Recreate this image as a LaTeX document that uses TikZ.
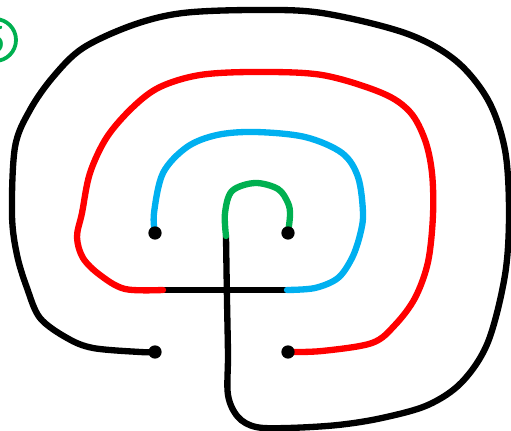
\documentclass[tikz,border=0pt]{standalone}
\usepackage{fontspec}
\setmainfont{Carlito}
\definecolor{lred}{HTML}{FF0000}
\definecolor{lblue}{HTML}{00B0F0}
\definecolor{lgreen}{HTML}{00B050}
\tikzset{
  wall/.style={line width=5pt*0.72, line cap=round, line join=round},
  dotmark/.style={circle, fill=black, inner sep=0pt, minimum size=10.5pt*0.72},
}
\begin{document}
\begin{tikzpicture}[x=0.02cm, y=-0.02cm]
\useasboundingbox (0,0) rectangle (511,431);
\clip (0,0) rectangle (511,431);
% step badge
\node[circle, draw=lgreen, line width=3pt*0.72, minimum size=42*0.02cm, inner sep=0pt, text=lgreen, font=\fontsize{24}{24}\selectfont] (badge) at (-5,40) {5};
% named points
\coordinate (crossL) at (163,290);
\coordinate (crossR) at (287,290);
\coordinate (crossT) at (226,236);
% black cross horizontal
\draw[wall, black] (crossL) -- (crossR);
% outer black loop
\draw[wall, black] plot[smooth, tension=0.55] coordinates {
 (155,352) (140,352) (93,348) (67,338) (40,318) (27,288) (17,255) (12,215)
 (15,147) (30,110) (53,77) (83,48) (133,25) (183,13) (256,10) (322,13)
 (405,33) (455,60) (488,100) (505,150) (509,213) (505,275) (488,342)
 (462,382) (428,405) (382,418) (338,425) (288,428) (256,427) (238,417)
 (228,395) (228,355) (227,300) (226,236)};
% red loop
\draw[wall, lred] plot[smooth, tension=0.55] coordinates {
 (288,352) (322,351) (372,343) (395,325) (415,298) (428,262) (433,215)
 (432,173) (425,140) (410,112) (382,93) (322,75) (255,72) (200,75)
 (160,87) (133,107) (107,137) (90,173) (82,213) (77,237) (83,258)
 (100,275) (125,289) (163,290)};
% blue loop
\draw[wall, lblue] plot[smooth, tension=0.55] coordinates {
 (155,233) (154,213) (163,173) (187,147) (217,135) (255,132) (305,137)
 (342,153) (358,177) (363,213) (360,235) (352,258) (338,278) (315,288) (287,290)};
% green loop
\draw[wall, lgreen] plot[smooth, tension=0.55] coordinates {
 (226,236) (225,213) (232,191) (255,183) (278,189) (288,203) (290,215) (288,233)};
% dots
\node[dotmark] (d1) at (155,233) {};
\node[dotmark] (d2) at (288,233) {};
\node[dotmark] (d3) at (155,352) {};
\node[dotmark] (d4) at (288,352) {};
\end{tikzpicture}
\end{document}
